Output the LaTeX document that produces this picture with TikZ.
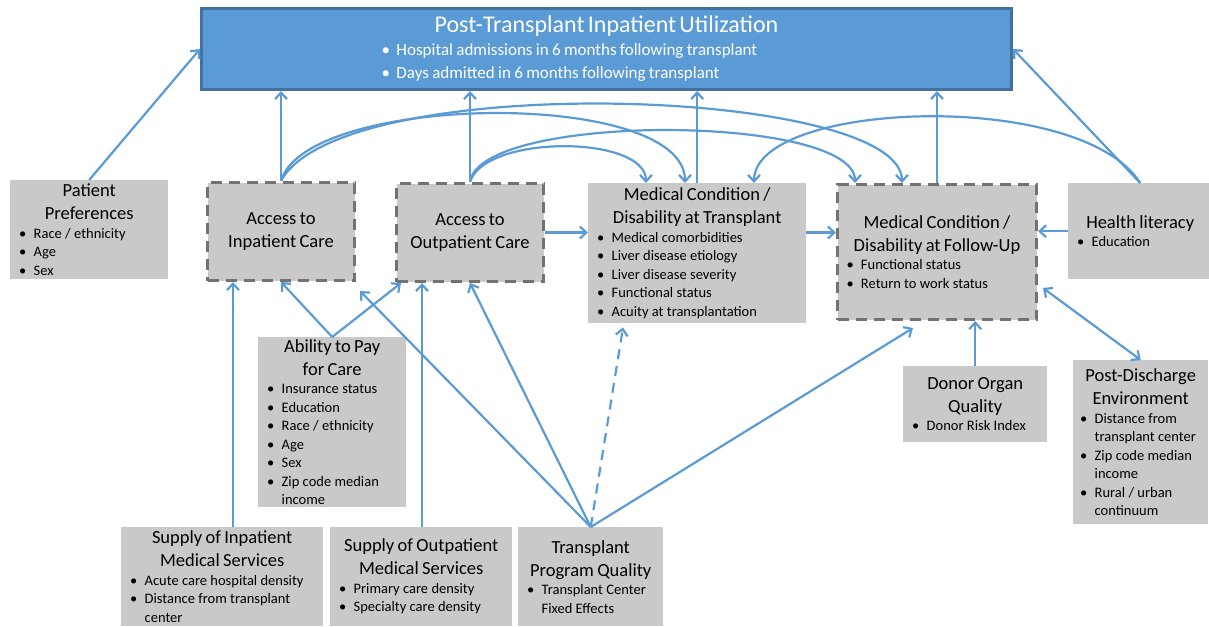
\documentclass[tikz,border=0pt]{standalone}
\usepackage{fontspec}
\setmainfont{Carlito}
\usetikzlibrary{arrows.meta}
\definecolor{linkblue}{HTML}{5B9BD5}
\definecolor{utiledge}{HTML}{41719C}
\definecolor{boxgray}{HTML}{C9C9C9}
\definecolor{dashgray}{HTML}{767171}
\newcommand{\bhead}[1]{{\centering\fontsize{18.5}{23}\selectfont #1\par}}
\newcommand{\bitem}[1]{{\fontsize{14.5}{18.5}\selectfont\raggedright\hyphenpenalty=10000
  \hangindent=14.5pt\hangafter=1\noindent\hbox to 14.5pt{\textbullet\hfil}#1\par}}
\newcommand{\uitem}[1]{{\fontsize{17}{23}\selectfont\leftskip=172pt
  \noindent\hbox to 15pt{\textbullet\hfil}#1\par}}
\begin{document}
\begin{tikzpicture}[x=1pt,y=-1pt,
    >={Straight Barb[length=6.5pt,width=12pt]},
    gbox/.style={fill=boxgray,anchor=north west,inner xsep=9pt,inner ysep=2pt},
    dbox/.style={gbox,draw=dashgray,line width=3pt,dash pattern=on 11pt off 7pt},
    link/.style={->,draw=linkblue,line width=2.2pt}]
  \useasboundingbox (0,0) rectangle (1209,626);
  \node[fill=linkblue,draw=utiledge,line width=3pt,anchor=north west,inner xsep=8pt,
        text width=794pt,minimum height=81pt,text=white] (util) at (200,7)
    {{\centering\fontsize{24}{25}\selectfont Post-Transplant Inpatient Utilization\par}
     \uitem{Hospital admissions in 6 months following transplant}
     \uitem{Days admitted in 6 months following transplant}};
  \node[gbox,text width=140pt,minimum height=99pt] (pref) at (10,180)
    {\bhead{Patient\\Preferences}\bitem{Race / ethnicity}\bitem{Age}\bitem{Sex}};
  \node[dbox,text width=129pt,minimum height=98pt] (accin) at (206,181)
    {\bhead{Access to\\Inpatient Care}};
  \node[dbox,text width=129pt,minimum height=98pt] (accout) at (395,182)
    {\bhead{Access to\\Outpatient Care}};
  \node[gbox,text width=200pt,minimum height=140pt] (medtx) at (588,183)
    {\bhead{Medical Condition /\\Disability at Transplant}
     \bitem{Medical comorbidities}\bitem{Liver disease etiology}
     \bitem{Liver disease severity}\bitem{Functional status}
     \bitem{Acuity at transplantation}};
  \node[dbox,text width=181pt,minimum height=135pt] (medfu) at (836,183)
    {\bhead{Medical Condition /\\Disability at Follow-Up}
     \bitem{Functional status}\bitem{Return to work status}};
  \node[gbox,text width=126pt,minimum height=96pt] (hlit) at (1068,183)
    {\bhead{Health literacy}\bitem{Education}};
  \node[gbox,text width=130pt,minimum height=170pt] (pay) at (258,337)
    {\bhead{Ability to Pay\\for Care}
     \bitem{Insurance status}\bitem{Education}\bitem{Race / ethnicity}
     \bitem{Age}\bitem{Sex}\bitem{Zip code median\newline income}};
  \node[gbox,text width=126pt,minimum height=76pt] (donor) at (903,366)
    {\bhead{Donor Organ\\Quality}\bitem{Donor Risk Index}};
  \node[gbox,inner xsep=7pt,text width=121pt,minimum height=164pt] (post) at (1073,360)
    {\bhead{Post-Discharge\\Environment}
     \bitem{Distance from\newline transplant center}
     \bitem{Zip code median\newline income}
     \bitem{Rural / urban\newline continuum}};
  \node[gbox,text width=184pt,minimum height=99pt] (supin) at (121,527)
    {\bhead{Supply of Inpatient\\Medical Services}
     \bitem{Acute care hospital density}
     \bitem{Distance from transplant\newline center}};
  \node[gbox,text width=164pt,minimum height=99pt] (supout) at (330,527)
    {\bhead{Supply of Outpatient\\Medical Services}
     \bitem{Primary care density}\bitem{Specialty care density}};
  \node[gbox,text width=127pt,minimum height=99pt] (tpq) at (518,527)
    {\bhead{Transplant\\Program Quality}
     \bitem{Transplant Center\newline Fixed Effects}};

  \draw[link] (pref.north) -- (util.west);
  \foreach \n in {accin,accout,medtx,medfu}
    \draw[link] (\n.north) -- (\n.north |- util.south);
  \draw[link] (hlit.north) -- (util.east);
  \draw[link] (accin.north) .. controls +(25,-88) and +(0,-95) .. ([shift={(97,0)}]medtx.north west);
  \draw[link] (accin.north) .. controls +(60,-112) and +(0,-96) .. ([shift={(66,0)}]medfu.north west);
  \draw[link] (accout.north) .. controls +(15,-48) and +(0,-48) .. ([shift={(58,0)}]medtx.north west);
  \draw[link] (accout.north) .. controls +(10,-70) and +(0,-69) .. ([shift={(19,0)}]medfu.north west);
  \draw[link] (hlit.north) .. controls +(-60,-95) and +(0,-82) .. ([shift={(166,0)}]medtx.north west);
  \draw[link] (accout.east) -- (accout.east -| medtx.west);
  \draw[link] (accout.east -| medtx.east) -- (accout.east -| medfu.west);
  \draw[link] (hlit.west) -- (hlit.west -| medfu.east);
  \draw[link,<->] (post.north) -- ([shift={(5,-33)}]medfu.south east);
  \draw[link] (donor.north) -- (donor.north |- medfu.south);
  \draw[link] ([shift={(112,0)}]supin.north west) -- ([shift={(112,0)}]supin.north west |- accin.south);
  \draw[link] ([shift={(92,0)}]supout.north west) -- ([shift={(92,0)}]supout.north west |- accout.south);
  \draw[link] (pay.north) -- (accin.south);
  \draw[link] (pay.north) -- ([shift={(6,0)}]accout.south west);
  \draw[link] (tpq.north) -- ([shift={(4,9)}]accin.south east);
  \draw[link] (tpq.north) -- (accout.south);
  \draw[link,dash pattern=on 10pt off 7pt] (tpq.north) -- ([shift={(35,4)}]medtx.south west);
  \draw[link] (tpq.north) -- ([shift={(77,7)}]medfu.south west);
\end{tikzpicture}
\end{document}
